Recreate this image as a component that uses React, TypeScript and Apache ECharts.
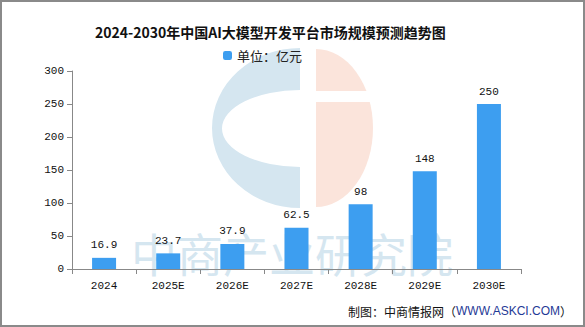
import React, { useEffect, useRef } from "react";
import * as echarts from "echarts";

const categories = ["2024", "2025E", "2026E", "2027E", "2028E", "2029E", "2030E"];
const values = [16.9, 23.7, 37.9, 62.5, 98, 148, 250];
const titleText = "2024-2030年中国AI大模型开发平台市场规模预测趋势图";
const legendName = "单位：亿元";

echarts.graphic.registerShape(
  "logoLeft",
  echarts.graphic.extendPath(
    "M 300 48 A 88 80 0 0 0 300 208 L 300 167 A 78 38.5 0 0 1 300 90 Z",
    {}
  )
);
echarts.graphic.registerShape(
  "logoRight",
  echarts.graphic.extendPath("M 316 49 A 57 79 0 0 1 316 207 Z", {})
);

const monoFont = "'Liberation Mono', 'DejaVu Sans Mono', monospace";
const cjkFont = "'Noto Sans CJK SC', sans-serif";

export default function App() {
  const ref = useRef<HTMLDivElement>(null);
  useEffect(() => {
    if (!ref.current) return;
    const chart = echarts.init(ref.current, null, { renderer: "svg" });
    chart.setOption({
      animation: false,
      backgroundColor: "#ffffff",
      title: {
        text: titleText,
        left: 90,
        top: 20,
        textStyle: {
          fontSize: 14,
          fontWeight: "bold",
          color: "#111",
          fontFamily: cjkFont,
        },
      },
      legend: {
        data: [legendName],
        top: 44,
        left: 218,
        itemWidth: 9,
        itemHeight: 9,
        itemGap: 4,
        textStyle: { fontSize: 13, color: "#222", fontFamily: cjkFont },
      },
      graphic: [
        {
          type: "rect",
          z: -10,
          silent: true,
          shape: { x: 1, y: 1, width: 583, height: 325 },
          style: { fill: "none", stroke: "#8a8a8a", lineWidth: 2 },
        },
        {
          type: "logoLeft",
          z: -5,
          silent: true,
          style: { fill: "#d5e6f0" },
        },
        {
          type: "logoRight",
          z: -5,
          silent: true,
          style: { fill: "#fbe4db" },
        },
        {
          type: "rect",
          z: -4,
          silent: true,
          shape: { x: 314, y: 91, width: 70, height: 11 },
          style: { fill: "#ffffff" },
        },
        {
          type: "text",
          z: -3,
          silent: true,
          x: 292,
          y: 252,
          style: {
            text: "中商产业研究院",
            fontSize: 46,
            fontWeight: "normal",
            fontFamily: cjkFont,
            fill: "#d5e6f0",
            align: "center",
            verticalAlign: "middle",
          },
        },
        {
          type: "text",
          x: 572,
          y: 311,
          style: {
            rich: {
              a: { fontSize: 12, fill: "#111", fontFamily: cjkFont },
              b: { fontSize: 12, fill: "#1f3a96", fontFamily: "'Liberation Sans', Arial, sans-serif" },
            },
            text: "{a|制图：中商情报网（}{b|WWW.ASKCI.COM}{a|）}",
            align: "right",
            verticalAlign: "middle",
          },
        },
      ],
      grid: { left: 72, right: 64, top: 71, bottom: 58, containLabel: false },
      xAxis: {
        type: "category",
        data: categories,
        axisLine: { lineStyle: { color: "#888", width: 1 } },
        axisTick: { show: true, length: 5, lineStyle: { color: "#888" } },
        axisLabel: { color: "#111", fontSize: 11, margin: 11, fontFamily: monoFont },
      },
      yAxis: {
        type: "value",
        min: 0,
        max: 300,
        interval: 50,
        axisLine: { show: true, lineStyle: { color: "#888", width: 1 } },
        axisTick: { show: true, length: 5, lineStyle: { color: "#888" } },
        splitLine: { show: false },
        axisLabel: { color: "#111", fontSize: 11, margin: 8, fontFamily: monoFont },
      },
      series: [
        {
          name: legendName,
          type: "bar",
          data: values,
          barWidth: 24,
          itemStyle: { color: "#3d9ef0" },
          label: {
            show: true,
            position: "top",
            distance: 7,
            color: "#111",
            fontSize: 11,
            fontFamily: monoFont,
          },
        },
      ],
    });
    return () => chart.dispose();
  }, []);
  return (
    <div
      ref={ref}
      style={{ position: "fixed", left: 0, top: 0, width: 585, height: 327 }}
    />
  );
}
